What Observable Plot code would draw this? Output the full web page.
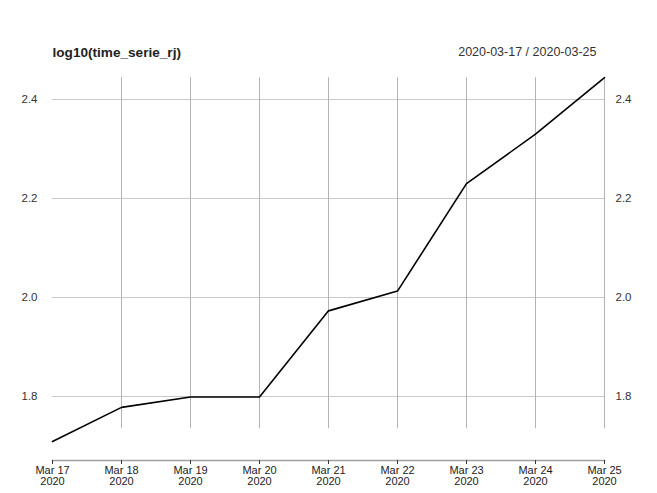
<!DOCTYPE html>
<html>
<head>
<meta charset="utf-8">
<script src="https://cdn.jsdelivr.net/npm/d3@7"></script>
<script src="https://cdn.jsdelivr.net/npm/@observablehq/plot@0.6"></script>
<style>
  html, body { margin: 0; padding: 0; background: #fff; }
  #chart svg { display: block; }
</style>
</head>
<body>
<div id="chart"></div>
<script>
const dates = ["2020-03-17","2020-03-18","2020-03-19","2020-03-20","2020-03-21","2020-03-22","2020-03-23","2020-03-24","2020-03-25"];
const values = [1.709, 1.778, 1.799, 1.799, 1.973, 2.013, 2.230, 2.330, 2.444];
const yTicks = [1.8, 2.0, 2.2, 2.4];
const mainTitle = "log10(time_serie_rj)";
const rangeTitle = "2020-03-17 / 2020-03-25";

const data = dates.map((d, i) => ({date: new Date(d + "T00:00:00Z"), value: values[i]}));
const xDates = data.map(d => d.date);
const gridTop = d3.max(values);
const gridBottom = 1.735;
const fmtMonth = d3.utcFormat("%b %d");
const fmtYear = d3.utcFormat("%Y");
const font = "'Liberation Sans', Arial, Helvetica, sans-serif";

const W = 657, H = 493;
const mL = 52, mR = 53, mT = 77, mB = 33;

const chart = Plot.plot({
  width: W,
  height: H,
  marginLeft: mL,
  marginRight: mR,
  marginTop: mT,
  marginBottom: mB,
  style: {fontFamily: font, fontSize: "11.5px", color: "#333", background: "#fff"},
  x: {type: "utc", domain: [xDates[0], xDates[xDates.length - 1]], range: [mL, W - mR], axis: null},
  y: {type: "linear", domain: [1.8, 2.4], range: [396, 99], axis: null},
  marks: [
    // horizontal grid
    Plot.ruleY(yTicks, {x1: xDates[0], x2: xDates[xDates.length - 1], stroke: "#c8c8c8", strokeWidth: 1}),
    // vertical grid (not at the first date)
    Plot.ruleX(xDates.slice(1), {y1: gridBottom, y2: gridTop, stroke: "#b4b4b4", strokeWidth: 1}),
    // x axis baseline
    Plot.frame({anchor: "bottom", stroke: "#a0a0a0", strokeWidth: 1.6}),
    // x axis ticks & labels
    Plot.axisX(xDates, {
      anchor: "bottom",
      tickSize: 4,
      tickPadding: 2,
      stroke: "#333",
      fill: "#222",
      fontSize: 11,
      tickFormat: d => fmtMonth(d).replace(" 0", " ") + "\n" + fmtYear(d),
      lineHeight: 1.0
    }),
    // y labels left
    Plot.text(yTicks, {x: xDates[0], y: d => d, text: d => d.toFixed(1), dx: -15, textAnchor: "end", fill: "#333", fontSize: 11.5}),
    // y labels right
    Plot.text(yTicks, {x: xDates[xDates.length - 1], y: d => d, text: d => d.toFixed(1), dx: 11, textAnchor: "start", fill: "#333", fontSize: 11.5}),
    // series line
    Plot.line(data, {x: "date", y: "value", stroke: "#000", strokeWidth: 1.6}),
    // titles
    Plot.text([mainTitle], {frameAnchor: "top-left", dy: -30, textAnchor: "start", fontWeight: "bold", fontSize: 13.6, fill: "#222"}),
    Plot.text([rangeTitle], {frameAnchor: "top-right", dy: -30, dx: -8, textAnchor: "end", fontSize: 12.5, fill: "#333"})
  ]
});
document.getElementById("chart").appendChild(chart);
</script>
</body>
</html>
